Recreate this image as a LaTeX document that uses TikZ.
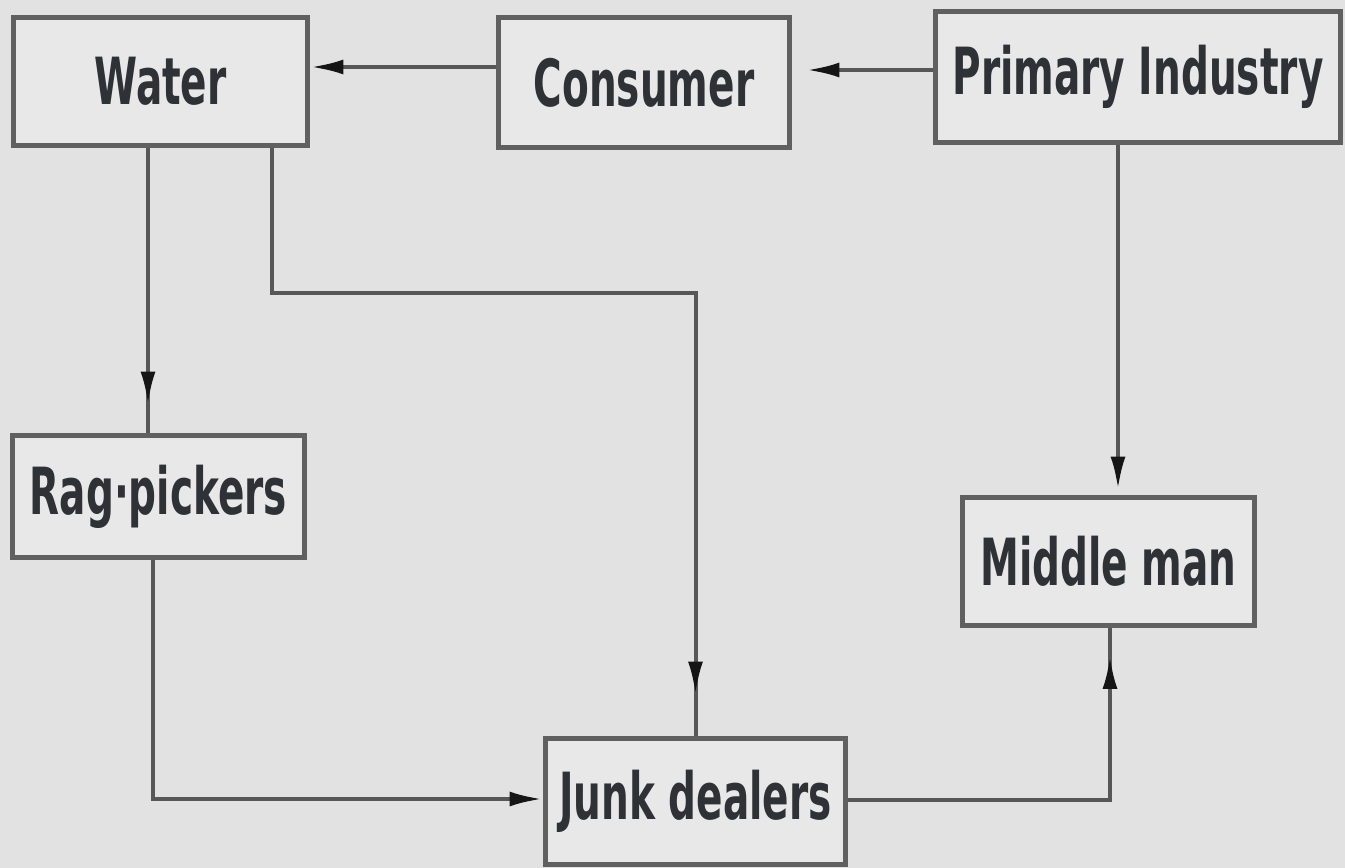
\documentclass[tikz,border=0pt]{standalone}
\usepackage{fontspec}
\setmainfont{DejaVu Sans}[FakeStretch=0.6]
\usetikzlibrary{positioning, arrows.meta, decorations.markings}
\definecolor{page_grey}{HTML}{E2E2E2}
\definecolor{box_fill}{HTML}{E8E8E8}
\definecolor{box_line}{HTML}{606060}
\definecolor{flow_line}{HTML}{575757}
\definecolor{tip_black}{HTML}{151515}
\definecolor{ink}{HTML}{2E3135}
\tikzset{
    box_node/.style={rectangle, draw=box_line, line width=0.1cm, fill=box_fill, text=ink, inner sep=0pt,
        font=\fontsize{37}{40}\selectfont\bfseries, text centered, align=center},
    flow/.style={line width=0.08cm, draw=flow_line},
    end_arrow/.style={flow, -{Latex[length=0.66cm, width=0.3cm, color=tip_black]}},
    mid_arrow/.style={flow, postaction={decorate}, decoration={markings,
        mark=at position #1 with {\arrow{Latex[length=0.66cm, width=0.3cm, color=tip_black]}}}},
}
\begin{document}
\begin{tikzpicture}[x=0.02cm, y=-0.02cm]
      \useasboundingbox [fill=page_grey] (0,0) rectangle (1345,868);
      %%%%%%%%%%%%%%%
      % Boxes       %
      %%%%%%%%%%%%%%%
      \node (water) [box_node, minimum width=5.9cm, minimum height=2.58cm] at (160.5,81.5)
          {Water};
      \node (consumer) [box_node, minimum width=5.84cm, minimum height=2.62cm] at (644,82.5)
          {Consumer};
      \node (primary) [box_node, minimum width=8.12cm, minimum height=2.64cm] at (1138,77)
          {Primary Industry};
      \node (ragpickers) [box_node, minimum width=5.86cm, minimum height=2.46cm] at (158.5,496.5)
          {Rag·pickers};
      \node (middleman) [box_node, minimum width=5.86cm, minimum height=2.58cm] at (1108.5,561.5)
          {Middle man};
      \node (junk) [box_node, minimum width=6.02cm, minimum height=2.54cm] at (695.5,801.5)
          {Junk dealers};

      %%%%%%%%%%%%%%%
      % Connectors  %
      %%%%%%%%%%%%%%%
      \coordinate (top_left) at (0,67);
      \coordinate (top_right) at (0,70);
      \coordinate (water_drop) at (148,0);
      \coordinate (water_bend) at (272,293);
      \coordinate (rag_bend) at (153,799);
      \coordinate (junk_bend) at (1110,800);
      \coordinate (primary_drop) at (1118,0);

      \draw [end_arrow] (consumer.west |- top_left) -- (water.east |- top_left);
      \draw [end_arrow, shorten >=0.28cm] (primary.west |- top_right) -- (consumer.east |- top_right);
      \draw [mid_arrow=-0.56cm] (water.south -| water_drop) -- (ragpickers.north -| water_drop);
      \draw [mid_arrow=-0.82cm] (water.south -| water_bend) -- (water_bend) -| (junk.north);
      \draw [end_arrow] (ragpickers.south -| rag_bend) -- (rag_bend) -- (junk.west |- rag_bend);
      \draw [mid_arrow=-0.55cm] (junk.east |- junk_bend) -- (junk_bend) -- (middleman.south -| junk_bend);
      \draw [end_arrow, shorten >=0.1cm] (primary.south -| primary_drop) -- (middleman.north -| primary_drop);

    \end{tikzpicture}
\end{document}
